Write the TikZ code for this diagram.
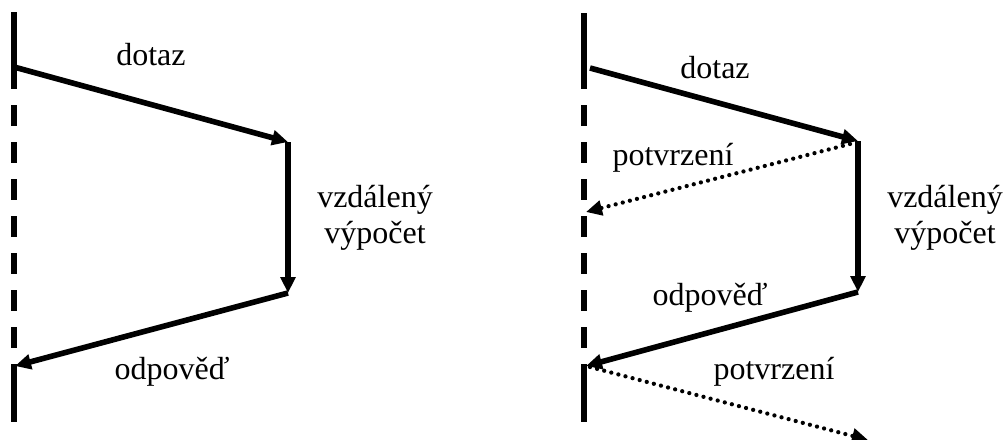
\documentclass[tikz,border=0pt]{standalone}
\usepackage{fontspec}
\setmainfont{Liberation Serif}
\usetikzlibrary{arrows.meta}
\begin{document}
\begin{tikzpicture}[x=0.75pt,y=-0.75pt,
 life/.style={line width=3.8pt},
 lifedash/.style={line width=3.8pt, dash pattern=on 15.75pt off 12pt},
 msg/.style={line width=4.2pt, -{Triangle[length=12pt,width=11pt]}},
 ack/.style={line width=3.2pt, line cap=round, dash pattern=on 0pt off 5.5pt, -{Triangle[length=12pt,width=11pt]}},
 lbl/.style={inner sep=0pt, anchor=base, align=center, font=\fontsize{24}{26.5}\selectfont}]
\useasboundingbox (0,0) rectangle (1006,439);
% left diagram
\coordinate (La) at (14,12);
\coordinate (Lb) at (14,68);
\coordinate (Lc) at (14,365);
\coordinate (Ld) at (14,422);
\draw[life] (La) -- (Lb);
\draw[lifedash] (Lb) -- (Lc);
\draw[life] (Lc) -- (Ld);
\coordinate (Lq) at (14,67);
\coordinate (Lr) at (288,142);
\coordinate (Ls) at (288,293);
\coordinate (Lt) at (15,366);
\draw[msg] (Lq) -- (Lr);
\draw[msg] (Lr) -- (Ls);
\draw[msg] (Ls) -- (Lt);
\node[lbl] (Ldotaz) at (151,65) {dotaz};
\node[lbl] (Lvyp) at (375,243) {vzdálený\\výpočet};
\node[lbl] (Lodp) at (172,379) {odpověď};
% right diagram
\coordinate (Ra) at (584,13);
\coordinate (Rb) at (584,68);
\coordinate (Rc) at (584,365);
\coordinate (Rd) at (584,422);
\draw[life] (Ra) -- (Rb);
\draw[lifedash] (Rb) -- (Rc);
\draw[life] (Rc) -- (Rd);
\coordinate (Rq) at (590,68);
\coordinate (Rr) at (858,141);
\coordinate (Rs) at (858,292);
\coordinate (Rt) at (586,366);
\coordinate (Rk1) at (850,144);
\coordinate (Rk2) at (586,212);
\coordinate (Rm1) at (590,367);
\coordinate (Rm2) at (868,440);
\draw[msg] (Rq) -- (Rr);
\draw[msg] (Rr) -- (Rs);
\draw[ack] (Rk1) -- (Rk2);
\draw[msg] (Rs) -- (Rt);
\draw[ack] (Rm1) -- (Rm2);
\node[lbl] (Rdotaz) at (715,78) {dotaz};
\node[lbl] (Rpot1) at (673,165) {potvrzení};
\node[lbl] (Rvyp) at (945,243) {vzdálený\\výpočet};
\node[lbl] (Rodp) at (710,305) {odpověď};
\node[lbl] (Rpot2) at (774,379) {potvrzení};
\end{tikzpicture}
\end{document}
